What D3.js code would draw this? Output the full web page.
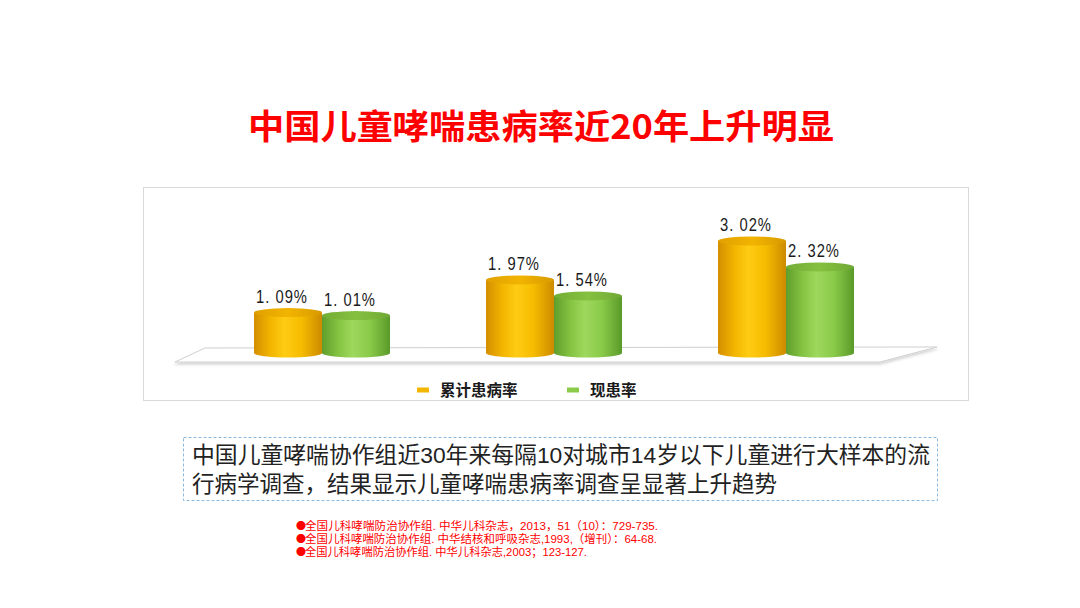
<!DOCTYPE html>
<html><head><meta charset="utf-8">
<script src="https://cdn.jsdelivr.net/npm/d3@7/dist/d3.min.js"></script>
<style>
html,body{margin:0;padding:0;background:#fff;}
svg{display:block;}
</style></head>
<body>
<svg id="c" width="1080" height="608"></svg>
<script>
const categories = ["第一次调查", "第二次调查", "第三次调查"];
const seriesNames = ["累计患病率", "现患率"];
const cumulativeRate = [1.09, 1.97, 3.02];
const currentRate = [1.01, 1.54, 2.32];
const titleText = "中国儿童哮喘患病率近20年上升明显";
const noteLines = ["中国儿童哮喘协作组近30年来每隔10对城市14岁以下儿童进行大样本的流",
                   "行病学调查，结果显示儿童哮喘患病率调查呈显著上升趋势"];
const refs = ["全国儿科哮喘防治协作组. 中华儿科杂志，2013，51（10）：729-735.",
              "全国儿科哮喘防治协作组. 中华结核和呼吸杂志,1993,（增刊）：64-68.",
              "全国儿科哮喘防治协作组. 中华儿科杂志,2003；123-127."];

const svg = d3.select("#c");
const CJK = "'Noto Sans CJK SC','Microsoft YaHei',sans-serif";
const MIX = "'Liberation Sans','Noto Sans CJK SC',sans-serif";

// title
svg.append("text").attr("x", 248).attr("y", 139)
  .attr("font-family", CJK).attr("font-weight", "bold").attr("font-size", 34)
  .attr("textLength", 586).attr("lengthAdjust", "spacingAndGlyphs")
  .attr("fill", "#ff0000").text(titleText);

// chart frame
svg.append("rect").attr("x", 143.5).attr("y", 187.5).attr("width", 825).attr("height", 213)
  .attr("fill", "#fff").attr("stroke", "#d9d9d9").attr("stroke-width", 1);

const defs = svg.append("defs");
function grad(id, stops) {
  const g = defs.append("linearGradient").attr("id", id).attr("x1", "0").attr("x2", "1").attr("y1", "0").attr("y2", "0");
  stops.forEach(s => g.append("stop").attr("offset", s[0]).attr("stop-color", s[1]));
}
grad("gY", [[0, "#d48f00"], [0.25, "#f3b600"], [0.45, "#ffcc14"], [0.7, "#f5bc00"], [1, "#cc8a00"]]);
grad("gYt", [[0, "#e0a000"], [0.5, "#f2b400"], [1, "#d89a00"]]);
grad("gG", [[0, "#5f9e2c"], [0.25, "#86c443"], [0.45, "#9ed85c"], [0.7, "#8acb49"], [1, "#5a9a2a"]]);
grad("gGt", [[0, "#72ad36"], [0.5, "#86c040"], [1, "#6fa935"]]);
const fills = [["url(#gY)", "url(#gYt)"], ["url(#gG)", "url(#gGt)"]];
const swatch = ["#f2b600", "#8ccb4a"];

const shadow = defs.append("filter").attr("id", "sh").attr("x", "-10%").attr("y", "-50%").attr("width", "120%").attr("height", "250%");
shadow.append("feDropShadow").attr("dx", 0).attr("dy", 2).attr("stdDeviation", 1.5).attr("flood-color", "#000").attr("flood-opacity", 0.18);

// floor
svg.append("path").attr("d", "M205,348 L937,347 L880,362 L175,362 Z")
  .attr("fill", "#fff").attr("stroke", "#d0d0d0").attr("stroke-width", 1).attr("filter", "url(#sh)");

// scales
const x0 = d3.scalePoint().domain(categories).range([322, 786]);
const x1 = d3.scaleBand().domain(seriesNames).range([-68, 68]).padding(0);
const y = d3.scaleLinear().domain([0, 3.5]).range([353, 223.2]);
const ry = 4.5;

const data = categories.map((c, i) => ({ c, vals: [cumulativeRate[i], currentRate[i]] }));
const groups = svg.append("g").selectAll("g").data(data).join("g")
  .attr("transform", d => `translate(${x0(d.c)},0)`);

groups.each(function (d) {
  const g = d3.select(this);
  d.vals.forEach((v, si) => {
    const bx = x1(seriesNames[si]);
    const w = x1.bandwidth();
    const cx = bx + w / 2;
    const yb = y(0), yt = y(v);
    g.append("path")
      .attr("d", `M${bx},${yt} L${bx},${yb} A${w / 2},${ry} 0 0 0 ${bx + w},${yb} L${bx + w},${yt} Z`)
      .attr("fill", fills[si][0]);
    g.append("ellipse").attr("cx", cx).attr("cy", yt).attr("rx", w / 2).attr("ry", ry)
      .attr("fill", fills[si][1]);
    g.append("g").attr("transform", `translate(${cx - 6},${yt - 10}) scale(0.82,1)`)
      .append("text").attr("text-anchor", "middle")
      .attr("font-family", "'Liberation Sans',Arial,sans-serif")
      .attr("font-size", 18).attr("letter-spacing", 1.2).attr("fill", "#1a1a1a")
      .text(v.toFixed(2).replace(".", ". ") + "%");
  });
});

// legend
const legend = svg.append("g");
const legX = [417, 567];
seriesNames.forEach((n, i) => {
  legend.append("rect").attr("x", legX[i]).attr("y", 387.5).attr("width", 12).attr("height", 5).attr("fill", swatch[i]);
  legend.append("text").attr("x", legX[i] + 23).attr("y", 395.5).attr("font-family", CJK)
    .attr("font-weight", "bold").attr("font-size", 15.5).attr("fill", "#1a1a1a").text(n);
});

// note box
svg.append("rect").attr("x", 183.5).attr("y", 437.5).attr("width", 754).attr("height", 63)
  .attr("fill", "none").attr("stroke", "#8db9df").attr("stroke-width", 1).attr("stroke-dasharray", "3,2");
const note = svg.append("text").attr("font-family", MIX).attr("font-size", 22.5).attr("fill", "#222");
noteLines.forEach((t, i) => {
  const ts = note.append("tspan").attr("x", 192).attr("y", 463 + i * 28.5).text(t);
  if (i === 0) ts.attr("textLength", 738).attr("lengthAdjust", "spacingAndGlyphs");
});

// references
const refLen = [353, 352, 282];
const refText = svg.append("text").attr("font-family", MIX).attr("font-size", 11.5).attr("fill", "#ff0000");
refs.forEach((t, i) => {
  refText.append("tspan").attr("x", 296).attr("y", 529.5 + i * 13)
    .attr("font-family", CJK).attr("font-size", 10).text("\u25CF");
  refText.append("tspan").attr("x", 305).attr("y", 529.5 + i * 13)
    .attr("textLength", refLen[i]).attr("lengthAdjust", "spacingAndGlyphs").text(t);
});
</script>
</body></html>
